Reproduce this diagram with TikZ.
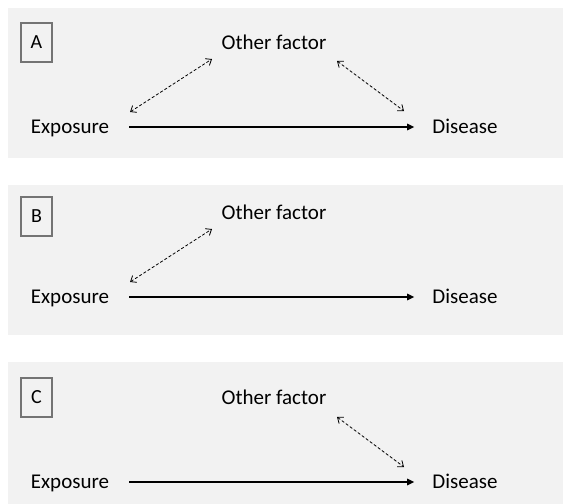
\documentclass[tikz,border=0pt]{standalone}
\usepackage{fontspec}
\setmainfont{Carlito}
\usetikzlibrary{arrows.meta}
\definecolor{panelgrey}{HTML}{F2F2F2}
\definecolor{tagline}{HTML}{747474}
\tikzset{
  panel/.style={fill=panelgrey, draw=none},
  tag/.style={draw=tagline, line width=2pt, minimum width=31pt, minimum height=39pt,
              inner sep=0pt, font=\fontsize{20}{24}\selectfont},
  term/.style={inner sep=0pt, text height=13pt, text depth=0pt,
               font=\fontsize{21}{25}\selectfont},
  causal/.style={line width=1.5pt, -{Triangle[length=7pt,width=6.5pt]},
                 shorten <=20pt, shorten >=18pt},
  assoc/.style={line width=0.8pt, dash pattern=on 3pt off 2pt,
                {Straight Barb[length=5pt,width=8pt]}-{Straight Barb[length=5pt,width=8pt]}}
}
\begin{document}
\begin{tikzpicture}[x=1pt, y=-1pt]
\useasboundingbox (0,0) rectangle (563,504);
\fill[white] (0,0) rectangle (563,504);

% ---------- panel A ----------
\fill[panel] (8,8) rectangle (563,158);
\node[tag] (tagA) at (36.5,42) {A};
\node[term] (othA) at (274,43) {Other factor};
\node[term] (expA) at (70,127) {Exposure};
\node[term] (disA) at (465,127) {Disease};
\coordinate (aL1) at (130,112);
\coordinate (aL2) at (212,59);
\coordinate (aR1) at (337,61);
\coordinate (aR2) at (404,111);
\draw[causal] (expA.east) -- (disA.west);
\draw[assoc] (aL1) -- (aL2);
\draw[assoc] (aR1) -- (aR2);

% ---------- panel B ----------
\fill[panel] (8,185) rectangle (563,335);
\node[tag] (tagB) at (36.5,216.5) {B};
\node[term] (othB) at (274,213) {Other factor};
\node[term] (expB) at (70,297) {Exposure};
\node[term] (disB) at (465,297) {Disease};
\coordinate (bL1) at (130,282);
\coordinate (bL2) at (212,229);
\draw[causal] (expB.east) -- (disB.west);
\draw[assoc] (bL1) -- (bL2);

% ---------- panel C ----------
\fill[panel] (8,362) rectangle (563,504);
\node[tag] (tagC) at (36.5,397.5) {C};
\node[term] (othC) at (274,398) {Other factor};
\node[term] (expC) at (70,482) {Exposure};
\node[term] (disC) at (465,482) {Disease};
\coordinate (cR1) at (337,417);
\coordinate (cR2) at (404,467);
\draw[causal] (expC.east) -- (disC.west);
\draw[assoc] (cR1) -- (cR2);
\end{tikzpicture}
\end{document}
